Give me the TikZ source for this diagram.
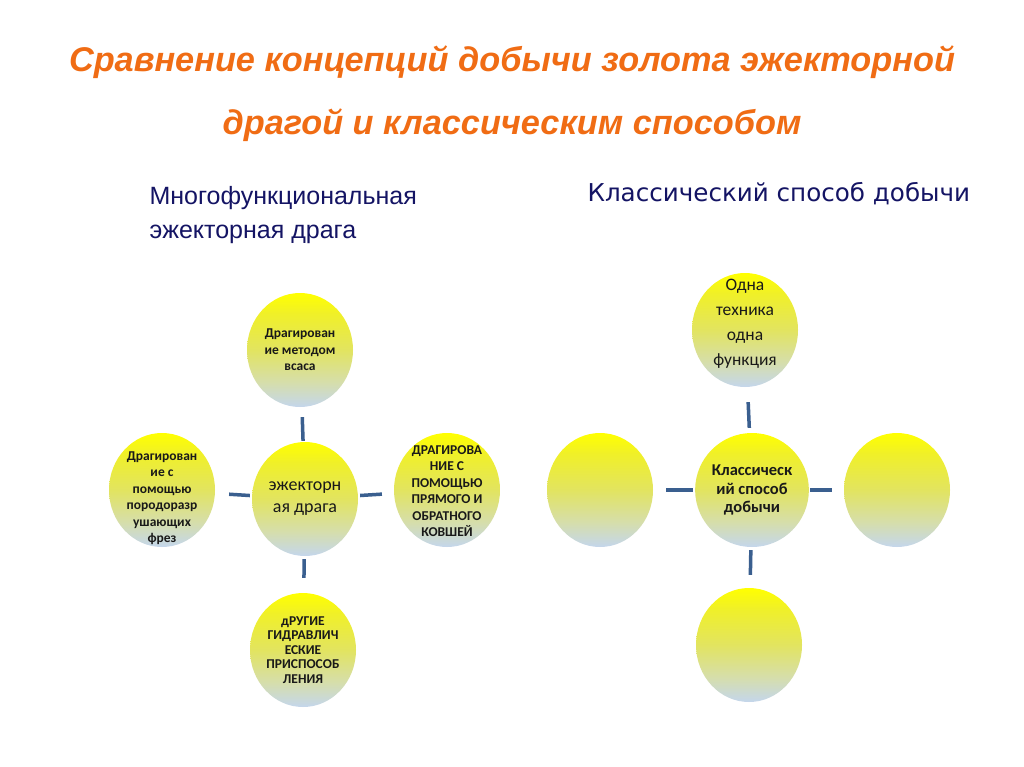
\documentclass[tikz,border=0pt]{standalone}
\usepackage{fontspec}
\setmainfont{Liberation Sans}
\newfontfamily\calfont{Carlito}
\newfontfamily\verdfont{DejaVu Sans}
\usetikzlibrary{shapes.geometric}
\definecolor{ttl}{RGB}{240,108,20}
\definecolor{navy}{RGB}{20,20,100}
\definecolor{connc}{RGB}{58,95,143}
\definecolor{ballB}{RGB}{196,214,236}
\definecolor{ballL}{RGB}{214,222,170}
\definecolor{ballM}{RGB}{226,228,96}
\definecolor{ballU}{RGB}{240,240,40}
\definecolor{ballY}{RGB}{255,255,0}
\definecolor{txt}{RGB}{25,25,25}
\pgfdeclareverticalshading{ballshade}{100bp}{color(0bp)=(ballB); color(25bp)=(ballB); color(36bp)=(ballL); color(50bp)=(ballM); color(66bp)=(ballU); color(75bp)=(ballY); color(100bp)=(ballY)}
\newcommand\lowered[2]{\raisebox{#1}[0pt][0pt]{\begin{tabular}{@{}c@{}}#2\end{tabular}}}
\tikzset{
  ball/.style={ellipse, shading=ballshade, minimum width=106pt, minimum height=114pt, inner sep=0pt, align=center, text=txt, font=\calfont\bfseries\fontsize{13.5}{16.5}\selectfont},
  bigtxt/.style={font=\calfont\fontsize{18}{22}\selectfont},
  conn/.style={draw=connc, line width=3.5pt},
  titletxt/.style={text=ttl, font=\bfseries\itshape\fontsize{34.3}{40}\selectfont},
  subtxt/.style={text=navy, font=\fontsize{25}{33}\selectfont, align=left}
}
\begin{document}
\begin{tikzpicture}[x=1pt,y=-1pt]
\useasboundingbox[fill=white] (0,0) rectangle (1024,767);
% titles
\node[titletxt] (t1) at (512,62) {Сравнение концепций добычи золота эжекторной};
\node[titletxt] (t2) at (512,125) {драгой и классическим способом};
\node[subtxt, anchor=base west] (s1) at (146,205) {Многофункциональная};
\node[subtxt, anchor=base west] (s2) at (146,238) {эжекторная драга};
\node[subtxt, anchor=base west, font=\verdfont\fontsize{24.6}{28}\selectfont] (s3) at (584,202) {Классический способ добычи};
% left cluster
\node[ball, bigtxt] (ej) at (305,499) {эжекторн\\ая драга};
\node[ball] (lt) at (300,350) {Драгирован\\ие методом\\всаса};
\node[ball] (ll) at (162,490) {\lowered{-12pt}{Драгирован\\ие с\\помощью\\породоразр\\ушающих\\фрез}};
\node[ball] (lr) at (447,490) {\lowered{-6pt}{ДРАГИРОВА\\НИЕ С\\ПОМОЩЬЮ\\ПРЯМОГО И\\ОБРАТНОГО\\КОВШЕЙ}};
\node[ball, font=\calfont\bfseries\fontsize{13.5}{14.5}\selectfont] (lb) at (303,650) {дРУГИЕ\\ГИДРАВЛИЧ\\ЕСКИЕ\\ПРИСПОСОБ\\ЛЕНИЯ};
\draw[conn, shorten <=1pt, shorten >=10pt] (ej) -- (lt);
\draw[conn, shorten <=2pt, shorten >=14pt] (ej) -- (ll);
\draw[conn, shorten <=2pt, shorten >=12pt] (ej) -- (lr);
\draw[conn, shorten <=3pt, shorten >=15pt] (ej) -- (lb);
% right cluster
\node[ball, font=\calfont\bfseries\fontsize{16.5}{18.5}\selectfont] (cl) at (752,490) {Классическ\\ий способ\\добычи};
\node[ball, font=\calfont\fontsize{17.5}{25}\selectfont] (rt) at (745,330) {\lowered{3pt}{Одна\\техника\\одна\\функция}};
\node[ball] (rl) at (600,490) {};
\node[ball] (rr) at (897,490) {};
\node[ball] (rb) at (749,645) {};
\draw[conn, shorten <=5pt, shorten >=15pt] (cl) -- (rt);
\draw[conn, shorten <=2pt, shorten >=13pt] (cl) -- (rl);
\draw[conn, shorten <=1pt, shorten >=12pt] (cl) -- (rr);
\draw[conn, shorten <=3pt, shorten >=13pt] (cl) -- (rb);
\end{tikzpicture}
\end{document}
